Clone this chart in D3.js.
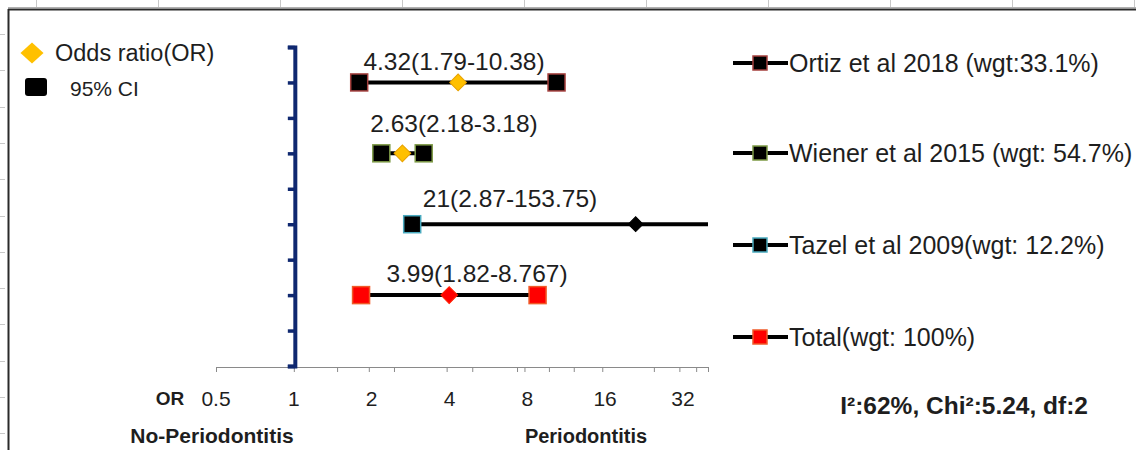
<!DOCTYPE html>
<html>
<head>
<meta charset="utf-8">
<script src="https://cdn.jsdelivr.net/npm/d3@7"></script>
<style>
  body { margin: 0; background: #fff; }
  svg text { font-family: "Liberation Sans", Arial, sans-serif; fill: #1e1e1e; }
</style>
</head>
<body>
<div id="chart"></div>
<script>
// data
var studies = ["Ortiz et al 2018 (wgt:33.1%)", "Wiener et al 2015 (wgt: 54.7%)", "Tazel et al 2009(wgt: 12.2%)", "Total(wgt: 100%)"];
var oddsRatio = [4.32, 2.63, 21, 3.99];
var ciLow = [1.79, 2.18, 2.87, 1.82];
var ciHigh = [10.38, 3.18, 153.75, 8.767];
var rowPos = [8, 6, 4, 2];
var ciLabels = ["4.32(1.79-10.38)", "2.63(2.18-3.18)", "21(2.87-153.75)", "3.99(1.82-8.767)"];
var xTickLabels = [0.5, 1, 2, 4, 8, 16, 32];
var xTickMarks = [0.5, 1, 1.47, 1.95, 2.44, 3.9, 4.9, 7.3, 7.8, 9.7, 12.1, 15.6, 24.7, 31, 36, 40];
var yTicks = [0, 1, 2, 3, 4, 5, 6, 7, 8, 9];
var heterogeneity = "I²:62%, Chi²:5.24, df:2";

// colours of each study's markers
var boxStroke = ["#a5403e", "#7e9a46", "#4aaabf", "#f05a28"];
var boxFill = ["#000", "#000", "#000", "#ff0000"];
var diamondFill = ["#ffc000", "#ffc000", "#000", "#ff0000"];
var diamondStroke = ["#e8a200", "#e8a200", "#000", "#ff2000"];

// label placement (pixel centres) and legend rows
var labelX = [454, 454, 510, 477];
var labelY = [70, 132, 207, 282];
var legendY = [63, 153, 245, 337];

var svgWidth = 1136;
var svgHeight = 450;

var svg = d3.select("#chart")
  .append("svg")
  .attr("width", svgWidth)
  .attr("height", svgHeight);

// spreadsheet grid remnants around the pasted chart
var sheet = svg.append("g").attr("stroke", "#c8c8c8").attr("stroke-width", 1);
d3.range(36, svgWidth, 122).forEach(function(x) {
  sheet.append("line").attr("x1", x + 0.5).attr("x2", x + 0.5).attr("y1", 0).attr("y2", 7);
});
d3.range(34, svgHeight, 36.3).forEach(function(y) {
  sheet.append("line").attr("x1", 0).attr("x2", 5).attr("y1", Math.round(y) + 0.5).attr("y2", Math.round(y) + 0.5);
});
svg.append("line").attr("x1", 8).attr("x2", svgWidth).attr("y1", 7.5).attr("y2", 7.5)
  .attr("stroke", "#b0b0b0").attr("stroke-width", 1);
svg.append("line").attr("x1", 8).attr("x2", svgWidth).attr("y1", 9.5).attr("y2", 9.5)
  .attr("stroke", "#2a2a2a").attr("stroke-width", 2);
svg.append("line").attr("x1", 8.5).attr("x2", 8.5).attr("y1", 9).attr("y2", svgHeight)
  .attr("stroke", "#2a2a2a").attr("stroke-width", 2);

// scales
var xScale = d3.scaleLog()
  .base(2)
  .domain([0.5, 40])
  .range([216, 708])
  .clamp(true);

var yScale = d3.scaleLinear()
  .domain([0, 9])
  .range([366, 47]);

// x axis (grey, ticks only)
var xAxis = svg.append("g")
  .attr("transform", "translate(0, 367)")
  .call(d3.axisBottom(xScale).tickValues(xTickMarks).tickSize(5).tickSizeOuter(5).tickFormat(""));
xAxis.select(".domain").attr("stroke", "#8a8a8a");
xAxis.selectAll(".tick line").attr("stroke", "#8a8a8a");

svg.append("g")
  .selectAll("text")
  .data(xTickLabels)
  .enter()
  .append("text")
  .attr("x", d => xScale(d))
  .attr("y", 406)
  .attr("text-anchor", "middle")
  .style("font-size", "21px")
  .text(d => d);

// blue vertical line of no effect (OR = 1)
var yAxis = svg.append("g")
  .attr("transform", `translate(${xScale(1) + 1}, 0)`)
  .call(d3.axisLeft(yScale).tickValues(yTicks).tickSize(7).tickSizeOuter(7).tickFormat(""));
yAxis.select(".domain").attr("stroke", "#0f2870").attr("stroke-width", 4);
yAxis.selectAll(".tick line").attr("stroke", "#0f2870").attr("stroke-width", 3.5);

// confidence interval lines
var rows = studies.map(function(s, i) {
  return { name: s, or: oddsRatio[i], lo: ciLow[i], hi: ciHigh[i], y: rowPos[i], i: i };
});

svg.append("g")
  .selectAll("line")
  .data(rows)
  .enter()
  .append("line")
  .attr("x1", d => xScale(d.lo))
  .attr("x2", d => xScale(d.hi))
  .attr("y1", d => yScale(d.y))
  .attr("y2", d => yScale(d.y))
  .attr("stroke", "#000")
  .attr("stroke-width", 4);

// CI end boxes (upper bound only when it is inside the axis)
var ends = [];
rows.forEach(function(d) {
  ends.push({ v: d.lo, y: d.y, i: d.i });
  if (d.hi <= xScale.domain()[1]) ends.push({ v: d.hi, y: d.y, i: d.i });
});

var boxSize = 17;
svg.append("g")
  .selectAll("rect")
  .data(ends)
  .enter()
  .append("rect")
  .attr("x", d => xScale(d.v) - boxSize / 2)
  .attr("y", d => yScale(d.y) - boxSize / 2)
  .attr("width", boxSize)
  .attr("height", boxSize)
  .attr("fill", d => boxFill[d.i])
  .attr("stroke", d => boxStroke[d.i])
  .attr("stroke-width", 1.5);

// odds ratio diamonds
var diamond = d3.symbol().type(d3.symbolSquare);
svg.append("g")
  .selectAll("path")
  .data(rows)
  .enter()
  .append("path")
  .attr("d", d => diamond.size(d.i === 2 ? 110 : 140)())
  .attr("transform", d => `translate(${xScale(d.or)}, ${yScale(d.y)}) rotate(45)`)
  .attr("fill", d => diamondFill[d.i])
  .attr("stroke", d => diamondStroke[d.i])
  .attr("stroke-width", 1);

// value labels
svg.append("g")
  .selectAll("text")
  .data(ciLabels)
  .enter()
  .append("text")
  .attr("x", (d, i) => labelX[i])
  .attr("y", (d, i) => labelY[i])
  .attr("text-anchor", "middle")
  .style("font-size", "24.5px")
  .text(d => d);

// series legend on the right
var legend = svg.append("g")
  .selectAll("g")
  .data(rows)
  .enter()
  .append("g")
  .attr("transform", d => `translate(733, ${legendY[d.i]})`);

legend.append("line")
  .attr("x1", 0).attr("x2", 55)
  .attr("stroke", "#000").attr("stroke-width", 4);
legend.append("rect")
  .attr("x", 20).attr("y", -7)
  .attr("width", 14).attr("height", 14)
  .attr("fill", d => boxFill[d.i])
  .attr("stroke", d => boxStroke[d.i])
  .attr("stroke-width", 1.5);
legend.append("text")
  .attr("x", 56)
  .attr("dy", "0.35em")
  .style("font-size", "25px")
  .text(d => d.name);

// marker key on the left
svg.append("path")
  .attr("d", d3.symbol().type(d3.symbolSquare).size(220)())
  .attr("transform", "translate(32, 53) scale(1.1, 1) rotate(45)")
  .attr("fill", "#ffc000");
svg.append("text")
  .attr("x", 55).attr("y", 53).attr("dy", "0.35em")
  .style("font-size", "23.5px")
  .text("Odds ratio(OR)");
svg.append("rect")
  .attr("x", 25).attr("y", 78)
  .attr("width", 22).attr("height", 18)
  .attr("rx", 3)
  .attr("fill", "#000");
svg.append("text")
  .attr("x", 70).attr("y", 89).attr("dy", "0.35em")
  .style("font-size", "21px")
  .text("95% CI");

// axis captions
svg.append("text")
  .attr("x", 170).attr("y", 405)
  .attr("text-anchor", "middle")
  .style("font-size", "19px").style("font-weight", "bold")
  .text("OR");
svg.append("text")
  .attr("x", 212).attr("y", 443)
  .attr("text-anchor", "middle")
  .style("font-size", "21px").style("font-weight", "bold")
  .text("No-Periodontitis");
svg.append("text")
  .attr("x", 586).attr("y", 443)
  .attr("text-anchor", "middle")
  .style("font-size", "20px").style("font-weight", "bold")
  .text("Periodontitis");
svg.append("text")
  .attr("x", 1088).attr("y", 414)
  .attr("text-anchor", "end")
  .style("font-size", "24.5px").style("font-weight", "bold")
  .text(heterogeneity);
</script>
</body>
</html>
